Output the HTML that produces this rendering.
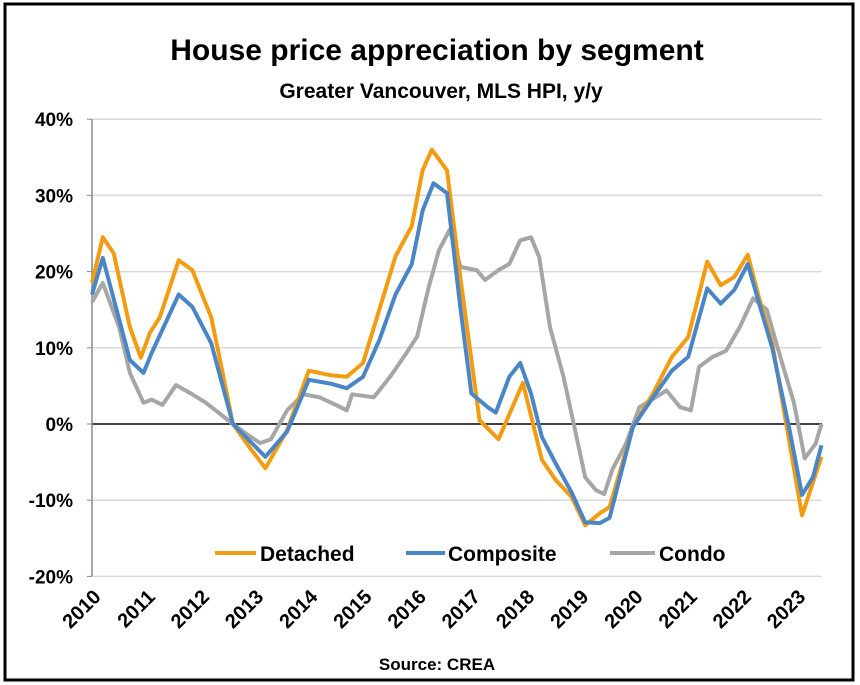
<!DOCTYPE html>
<html><head><meta charset="utf-8"><style>
html,body{margin:0;padding:0;background:#fff;}
svg{display:block;font-family:"Liberation Sans",Calibri,sans-serif;}
</style></head><body>
<svg id="chart" width="860" height="685" viewBox="0 0 860 685">
<rect x="5" y="4" width="848" height="676" fill="#fff" stroke="#000" stroke-width="3"/>
<text x="437" y="60" text-anchor="middle" font-size="30" font-weight="bold">House price appreciation by segment</text>
<text x="441" y="98" text-anchor="middle" font-size="21" font-weight="bold">Greater Vancouver, MLS HPI, y/y</text>
<g id="grid"></g><g id="series"></g><g id="xlabels"></g>
<g>
<line x1="215" y1="553" x2="256" y2="553" stroke="#f39c12" stroke-width="4"/>
<text x="260" y="561" font-size="21" font-weight="bold">Detached</text>
<line x1="406" y1="553" x2="445" y2="553" stroke="#4a86c5" stroke-width="4"/>
<text x="448" y="561" font-size="21" font-weight="bold">Composite</text>
<line x1="610" y1="553" x2="655" y2="553" stroke="#a6a6a6" stroke-width="4"/>
<text x="659" y="561" font-size="21" font-weight="bold">Condo</text>
</g>
<text x="437" y="670" text-anchor="middle" font-size="17" font-weight="bold">Source: CREA</text>
</svg>
<script>
const yTicks = [40, 30, 20, 10, 0, -10, -20];
const years = [2010,2011,2012,2013,2014,2015,2016,2017,2018,2019,2020,2021,2022,2023];
const detT = [2010.0,2010.2,2010.4,2010.7,2010.9,2011.07,2011.25,2011.6,2011.85,2012.2,2012.35,2012.6,2012.9,2013.2,2013.6,2014.0,2014.4,2014.7,2015.0,2015.3,2015.6,2015.9,2016.1,2016.27,2016.55,2016.8,2017.15,2017.5,2017.95,2018.3,2018.55,2018.85,2019.1,2019.37,2019.55,2019.98,2020.35,2020.7,2021.0,2021.35,2021.6,2021.85,2022.1,2022.3,2022.55,2022.87,2023.1,2023.46];
const detV = [18.5,24.5,22.4,12.7,8.7,12,14,21.5,20.2,14,8.8,0,-3,-5.8,-0.8,7,6.4,6.2,8,15,22,26,33.3,36,33.3,19,0.5,-2,5.4,-4.7,-7.3,-9.6,-13.3,-11.7,-10.9,-0.4,4,8.8,11.4,21.3,18.2,19.3,22.2,16.7,10.6,-2.5,-12,-4.3];
const comT = [2010.0,2010.2,2010.7,2010.95,2011.1,2011.6,2011.85,2012.2,2012.6,2013.2,2013.6,2014.0,2014.4,2014.7,2015.0,2015.3,2015.6,2015.9,2016.1,2016.3,2016.55,2016.8,2017.0,2017.3,2017.45,2017.7,2017.9,2018.1,2018.3,2018.55,2018.85,2019.1,2019.37,2019.55,2019.98,2020.35,2020.7,2021.0,2021.35,2021.6,2021.85,2022.1,2022.3,2022.55,2022.87,2023.1,2023.3,2023.46];
const comV = [17,21.8,8.4,6.7,9.3,17,15.4,10.6,0,-4.3,-1,5.8,5.3,4.7,6.2,11,17,21,28,31.6,30.3,15,4,2.2,1.5,6.2,8,4,-1.7,-5.1,-9,-12.9,-13,-12.3,-0.4,3.5,7,8.8,17.8,15.8,17.6,21,16,10,-0.8,-9.3,-7,-2.8];
const conT = [2010.0,2010.2,2010.5,2010.7,2010.95,2011.1,2011.3,2011.55,2011.85,2012.1,2012.35,2012.6,2012.85,2013.1,2013.3,2013.6,2013.9,2014.2,2014.5,2014.7,2014.8,2015.2,2015.5,2015.8,2016.0,2016.2,2016.4,2016.6,2016.8,2017.1,2017.25,2017.5,2017.7,2017.9,2018.1,2018.25,2018.45,2018.7,2018.9,2019.1,2019.3,2019.45,2019.6,2019.85,2020.1,2020.4,2020.6,2020.85,2021.05,2021.2,2021.45,2021.7,2021.95,2022.2,2022.45,2022.7,2022.95,2023.15,2023.35,2023.46];
const conV = [16,18.5,12.7,6.7,2.8,3.2,2.5,5.1,3.9,2.8,1.4,0,-1.3,-2.5,-2,1.8,3.9,3.5,2.5,1.8,3.9,3.5,6.2,9.3,11.5,17.6,22.8,25.5,20.6,20.2,18.9,20.2,21,24.1,24.5,21.9,12.7,6.2,-0.4,-7,-8.7,-9.2,-6,-2.6,2.2,3.5,4.4,2.2,1.8,7.5,8.8,9.6,12.7,16.5,15,8.8,2.8,-4.5,-2.6,0];

const NS = "http://www.w3.org/2000/svg";
const X0 = 92, X1 = 822, PXY = 54.2;
const xS = t => X0 + (t - 2010) * PXY;
const yS = v => 424 - v * 7.62;
const grid = document.getElementById('grid');
yTicks.forEach(v => {
  const l = document.createElementNS(NS, 'line');
  l.setAttribute('x1', X0); l.setAttribute('x2', X1);
  l.setAttribute('y1', yS(v)); l.setAttribute('y2', yS(v));
  l.setAttribute('stroke', v === 0 ? '#000' : '#d9d9d9');
  l.setAttribute('stroke-width', 1.5);
  
  
  grid.appendChild(l);
  const tk = document.createElementNS(NS, 'line');
  tk.setAttribute('x1', X0 - 5); tk.setAttribute('x2', X0);
  tk.setAttribute('y1', yS(v)); tk.setAttribute('y2', yS(v));
  tk.setAttribute('stroke', '#888');
  
  
  grid.appendChild(tk);
  const t = document.createElementNS(NS, 'text');
  t.setAttribute('x', 73); t.setAttribute('y', yS(v) + 7);
  t.setAttribute('text-anchor', 'end'); t.setAttribute('font-size', '19'); t.setAttribute('font-weight', 'bold');
  t.textContent = v + '%';
  
  
  grid.appendChild(t);
});
const ax = document.createElementNS(NS, 'line');
ax.setAttribute('x1', X0); ax.setAttribute('x2', X0);
ax.setAttribute('y1', yS(40)); ax.setAttribute('y2', yS(-20));
ax.setAttribute('stroke', '#888'); ax.setAttribute('stroke-width', 1.5);


grid.appendChild(ax);

const xl = document.getElementById('xlabels');
years.forEach(y => {
  const t = document.createElementNS(NS, 'text');
  const x = xS(y) + 10, yy = 598;
  t.setAttribute('x', x); t.setAttribute('y', yy);
  t.setAttribute('text-anchor', 'end'); t.setAttribute('font-size', '20'); t.setAttribute('font-weight', 'bold');
  t.setAttribute('transform', `rotate(-45 ${x} ${yy})`);
  t.textContent = y;
  
  
  xl.appendChild(t);
});

const sg = document.getElementById('series');
function draw(T, V, color, name) {
  const p = document.createElementNS(NS, 'path');
  p.setAttribute('d', T.map((t, i) => (i ? 'L' : 'M') + xS(t).toFixed(1) + ',' + yS(V[i]).toFixed(1)).join(''));
  p.setAttribute('fill', 'none'); p.setAttribute('stroke', color);
  p.setAttribute('stroke-width', 4); p.setAttribute('stroke-linejoin', 'round');
  
  
  sg.appendChild(p);
}
draw(conT, conV, '#a6a6a6', 'condo-line');
draw(detT, detV, '#f39c12', 'detached-line');
draw(comT, comV, '#4a86c5', 'composite-line');
</script>
</body></html>
